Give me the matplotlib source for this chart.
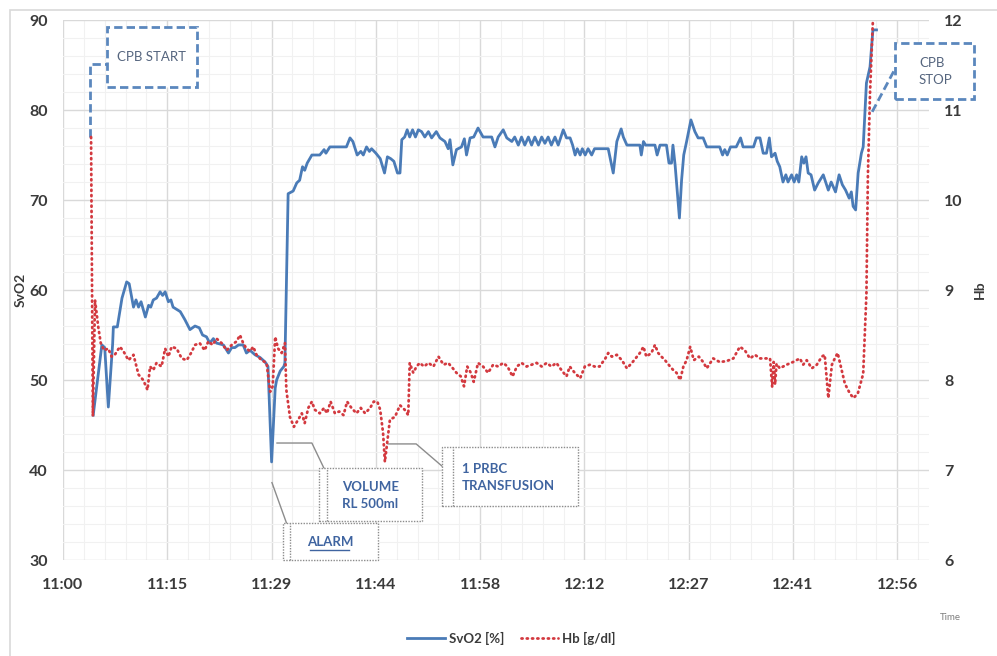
import matplotlib
matplotlib.use("Agg")
import matplotlib.pyplot as plt
from matplotlib.patches import Rectangle
from matplotlib.ticker import AutoMinorLocator, FixedLocator
import numpy as np

plt.rcParams['font.family'] = ['Lato', 'DejaVu Sans']

# time axis: minutes after 11:00, one tick every 14.5 min
tick_pos = np.arange(9) * 14.5
tick_labels = ['11:00', '11:15', '11:29', '11:44', '11:58', '12:12', '12:27', '12:41', '12:56']

# SvO2 [%] readings
svo2_t = [4.2, 5.4, 5.8, 6.3, 6.9, 7.0, 7.55, 8.2, 8.85, 9.2, 9.8, 10.15, 10.5, 10.85, 11.45,
          11.9, 12.2, 12.55, 13.0, 13.5, 13.85, 14.2, 14.65, 15.0, 15.3, 16.3, 16.95, 17.65,
          18.35, 18.95, 19.4, 19.95, 20.4, 20.9, 21.35, 22.3, 23.0, 23.45, 23.9, 24.4, 25.05,
          25.5, 26.0, 26.7, 27.4, 28.1, 28.5, 29.0, 29.5, 29.7, 30.2, 30.7, 30.85, 31.3, 32.0,
          32.5, 32.9, 33.3, 33.6, 33.95, 34.6, 35.7, 36.3, 36.55, 37.1, 39.4, 39.9, 40.3, 40.9,
          41.4, 41.75, 42.2, 42.6, 42.9, 43.5, 44.1, 44.7, 45.1, 45.55, 46.0, 46.5, 46.85, 47.1,
          47.5, 47.85, 48.2, 48.6, 49.0, 49.4, 49.85, 50.3, 50.8, 51.25, 51.9, 52.4, 53.1, 53.55,
          53.8, 54.2, 54.7, 55.4, 55.8, 56.1, 56.6, 57.1, 57.7, 58.4, 59.6, 60.05, 60.5, 61.2,
          61.7, 62.4, 62.8, 63.3, 63.75, 64.2, 64.7, 65.15, 65.6, 66.1, 66.55, 67.0, 67.45, 67.9,
          68.4, 68.85, 69.55, 70.0, 70.5, 70.85, 71.2, 71.5, 71.9, 72.2, 72.6, 73.0, 73.5, 73.9,
          75.8, 76.5, 77.0, 77.6, 77.9, 78.4, 80.2, 80.4, 80.7, 81.0, 82.3, 82.6, 83.0, 83.9,
          84.25, 84.6, 84.8, 85.1, 85.7, 86.0, 86.3, 86.7, 87.3, 87.85, 88.3, 89.0, 89.5, 91.3,
          91.7, 92.0, 92.35, 92.8, 93.6, 94.2, 94.55, 96.0, 96.4, 96.9, 97.35, 97.8, 98.2, 98.5,
          99.0, 99.3, 99.65, 100.1, 100.5, 100.8, 101.3, 101.65, 102.0, 102.3, 102.7, 103.0,
          103.3, 103.6, 104.0, 104.5, 105.0, 105.7, 106.4, 106.8, 107.4, 107.9, 108.35, 108.8,
          109.3, 109.6, 109.85, 110.2, 110.55, 111.0, 111.25, 111.7, 112.2, 112.6, 113.1]
svo2 = [46.1, 53.9, 53.6, 47.0, 54.0, 55.9, 55.9, 59.1, 60.9, 60.7, 58.1, 58.9, 58.1, 58.7, 57.0,
        58.3, 58.1, 58.9, 59.1, 59.8, 59.4, 59.8, 58.7, 58.9, 58.1, 57.6, 56.7, 55.6,
        56.0, 55.8, 55.0, 54.8, 54.1, 54.6, 54.1, 53.9, 53.0, 53.6, 53.6, 53.9, 53.9,
        53.0, 53.3, 52.8, 52.5, 52.0, 51.5, 40.9, 49.1, 50.0, 51.0, 51.5, 51.9, 70.7, 71.0,
        71.9, 72.2, 73.7, 73.3, 74.1, 75.0, 75.0, 75.6, 75.2, 75.9, 75.9, 76.9, 76.5, 75.0,
        75.4, 75.0, 75.9, 75.4, 75.7, 75.2, 74.6, 73.0, 74.8, 74.6, 74.3, 73.0, 73.0, 76.7,
        77.0, 77.8, 77.0, 77.8, 77.0, 77.8, 77.6, 77.0, 77.6, 76.9, 77.6, 76.9, 76.5, 75.7,
        76.7, 73.9, 75.6, 75.9, 76.8, 75.0, 76.9, 77.0, 78.0, 77.0, 77.0, 75.9, 77.0, 77.8,
        76.9, 76.5, 77.0, 76.1, 77.0, 76.1, 77.0, 76.1, 77.0, 76.1, 77.0, 76.3, 77.0, 76.1,
        77.0, 76.1, 77.8, 76.9, 76.9, 76.1, 75.0, 75.7, 75.0, 75.7, 75.0, 75.7, 75.0, 75.7,
        75.7, 73.0, 76.5, 77.9, 77.0, 76.1, 76.1, 75.0, 76.5, 76.1, 76.1, 75.0, 76.1, 76.1,
        74.1, 74.1, 76.1, 73.9, 68.0, 72.2, 75.0, 76.5, 78.9, 77.6, 76.9, 76.9, 75.9, 75.9,
        75.0, 75.6, 75.0, 75.9, 75.9, 76.9, 75.9, 75.9, 76.9, 76.9, 75.2, 75.2, 76.9, 74.8,
        75.2, 74.3, 73.7, 72.0, 72.8, 72.0, 72.8, 72.0, 72.8, 72.0, 74.8, 74.1,
        74.8, 73.0, 72.8, 71.1, 71.9, 72.8, 71.1, 72.0, 70.9, 72.8, 71.7, 71.1,
        70.2, 70.9, 69.3, 68.9, 73.0, 75.2, 75.9, 83.0, 84.8, 88.9, 88.9]

# Hb [g/dl] readings
hb_t = [3.9, 4.15, 4.45, 4.9, 5.25, 5.7, 6.3, 6.75, 7.2, 7.9, 8.4, 9.1, 9.8, 10.5, 11.15, 11.75,
        12.1, 12.55, 13.0, 13.7, 14.2, 14.65, 15.1, 15.8, 16.5, 17.2, 17.8, 18.35, 19.0, 19.7,
        20.2, 20.8, 21.35, 22.05, 22.75, 23.45, 24.15, 24.6, 25.05, 25.5, 26.0, 26.45, 26.9,
        27.6, 28.3, 28.8, 29.15, 29.5, 29.9, 30.4, 30.85, 31.05, 31.55, 32.1, 32.7, 33.2, 33.6,
        34.1, 34.6, 35.0, 35.7, 36.3, 36.7, 37.2, 37.8, 38.4, 39.0, 39.5, 40.1, 40.8, 41.4,
        42.0, 42.7, 43.2, 43.7, 44.1, 44.5, 44.75, 45.45, 46.15, 46.85, 47.5, 48.0, 48.2, 48.7,
        49.15, 49.6, 50.2, 50.8, 51.5, 52.2, 52.9, 53.55, 54.2, 54.7, 55.3, 55.75, 56.2, 56.7,
        57.1, 57.7, 58.4, 59.1, 59.8, 60.5, 61.2, 61.8, 62.5, 63.1, 63.75, 64.45, 65.15, 65.85,
        66.55, 67.25, 67.9, 68.6, 69.3, 70.0, 70.45, 71.15, 71.9, 72.55, 73.25, 73.9, 74.6,
        75.4, 75.8, 76.3, 77.0, 77.7, 78.4, 79.1, 79.8, 80.2, 80.7, 81.1, 81.8, 82.3, 82.75,
        83.2, 83.7, 84.4, 84.85, 85.3, 85.8, 86.25, 86.7, 87.2, 87.7, 88.4, 89.0, 89.5, 90.4,
        91.3, 92.25, 93.2, 94.1, 94.8, 95.5, 96.2, 96.9, 97.6, 98.3, 98.6, 98.8, 99.0, 99.2,
        99.65, 100.6, 101.5, 102.45, 102.9, 103.4, 104.1, 104.8, 105.5, 105.9, 106.4, 106.9,
        107.3, 107.7, 108.2, 108.7, 109.4, 109.9, 110.5, 111.25, 111.7, 111.9, 112.2, 112.6]
hb = [10.7, 7.6, 8.89, 8.59, 8.41, 8.33, 8.35, 8.26, 8.28, 8.37, 8.32, 8.22, 8.28, 8.06, 8.0, 7.89,
      8.15, 8.11, 8.19, 8.15, 8.35, 8.26, 8.37, 8.35, 8.24, 8.22, 8.30, 8.39, 8.41, 8.33,
      8.43, 8.39, 8.46, 8.41, 8.33, 8.39, 8.43, 8.50, 8.41, 8.35, 8.32, 8.37, 8.28,
      8.22, 8.19, 7.87, 7.93, 8.48, 8.35, 8.30, 8.41, 7.89, 7.59, 7.48, 7.56, 7.63, 7.52,
      7.69, 7.76, 7.67, 7.63, 7.69, 7.63, 7.76, 7.63, 7.65, 7.61, 7.76, 7.69, 7.63, 7.69,
      7.63, 7.69, 7.76, 7.76, 7.67, 7.41, 7.09, 7.56, 7.59, 7.72, 7.67, 7.61, 8.19, 8.08,
      8.15, 8.19, 8.15, 8.19, 8.15, 8.26, 8.17, 8.19, 8.13, 8.08, 8.04, 7.93, 8.15, 8.08,
      7.98, 8.19, 8.15, 8.08, 8.17, 8.15, 8.19, 8.15, 8.04, 8.15, 8.19, 8.15, 8.17, 8.19,
      8.15, 8.19, 8.15, 8.19, 8.11, 8.04, 8.15, 8.08, 8.02, 8.15, 8.17, 8.15, 8.15,
      8.24, 8.30, 8.26, 8.28, 8.22, 8.13, 8.19, 8.26, 8.30, 8.37, 8.26, 8.30, 8.39, 8.30,
      8.26, 8.22, 8.15, 8.11, 8.08, 8.00, 8.15, 8.22, 8.37, 8.22, 8.26, 8.20, 8.13, 8.24,
      8.20, 8.21, 8.24, 8.37, 8.33, 8.24, 8.28, 8.24, 8.24, 8.24, 7.92, 8.20, 7.95, 8.18,
      8.13, 8.17, 8.20, 8.24, 8.17, 8.22, 8.13, 8.17, 8.26, 8.28, 7.80, 8.17,
      8.24, 8.30, 8.13, 7.96, 7.85, 7.80, 7.85, 8.07, 8.96, 10.26, 11.19, 12.0]

blue = '#4a7bb7'
red = '#d3393f'
note_blue = '#3f64a0'
tick_col = '#3a3a3a'

fig = plt.figure(figsize=(9.97, 6.56), dpi=100)
ax = fig.add_axes([0.0632, 0.1463, 0.8686, 0.8232])
ax2 = ax.twinx()

# light frame around the whole chart
fig.add_artist(Rectangle((0.01, -0.1), 1.1, 1.0848, transform=fig.transFigure,
                         fill=False, edgecolor='#d9d9d9', linewidth=1.2))

ln1, = ax.plot(svo2_t, svo2, color=blue, linewidth=2.0, solid_joinstyle='round', zorder=3,
               label='SvO2 [%]')
ln2, = ax2.plot(hb_t, hb, color=red, linewidth=2.0, linestyle=(0, (0.4, 1.5)),
                dash_capstyle='round', zorder=3, label='Hb [g/dl]')

ax.set_xlim(0, 120.4)
ax.set_ylim(30, 90)
ax2.set_ylim(6, 12)
ax.xaxis.set_major_locator(FixedLocator(tick_pos))
ax.set_xticklabels(tick_labels)
ax.set_yticks(np.arange(30, 91, 10))
ax2.set_yticks(np.arange(6, 13, 1))
ax.xaxis.set_minor_locator(AutoMinorLocator(5))
ax.yaxis.set_minor_locator(AutoMinorLocator(5))

ax.grid(which='major', color='#d9d9d9', linewidth=1.0)
ax.grid(which='minor', color='#f1f1f1', linewidth=0.8)
ax.set_axisbelow(True)
for a in (ax, ax2):
    for s in a.spines.values():
        s.set_visible(False)
ax.tick_params(axis='both', which='both', length=0)
ax2.tick_params(axis='both', which='both', length=0)
ax.tick_params(axis='x', pad=13)
ax.tick_params(axis='y', pad=11)
ax2.tick_params(axis='y', pad=11)
for lbl in ax.get_xticklabels() + ax.get_yticklabels() + ax2.get_yticklabels():
    lbl.set_fontsize(11.5)
    lbl.set_fontweight('bold')
    lbl.set_color(tick_col)

ax.set_ylabel('SvO2', fontsize=10, fontweight='bold', color=tick_col, labelpad=2)
ax2.set_ylabel('Hb', fontsize=10, fontweight='bold', color=tick_col, labelpad=8, rotation=90)
fig.text(0.953, 0.058, 'Time', fontsize=7, color='#7f7f7f', ha='center', va='center')

# ---- annotations (drawn in SvO2 data coordinates) ----
def box(x0, x1, y0, y1, **kw):
    rect = Rectangle((x0, y0), x1 - x0, y1 - y0, clip_on=False, zorder=6, **kw)
    ax.add_patch(rect)

def link(xs, ys, **kw):
    ax.plot(xs, ys, clip_on=False, zorder=6, **kw)

dash_kw = dict(facecolor='white', edgecolor='#5b87bd', linewidth=2, linestyle=(0, (3, 1.5)))
# CPB START
link([3.75, 3.75, 6.07], [77.0, 85.1, 85.1], color='#5b87bd', linewidth=2,
     linestyle=(0, (3, 1.5)))
box(6.07, 18.66, 82.52, 89.19, **dash_kw)
ax.text(12.36, 85.85, 'CPB START', fontsize=9.5, color='#55657e', ha='center', va='center',
        zorder=7)
# CPB STOP
link([112.5, 115.5, 115.7], [79.8, 84.3, 84.3], color='#5b87bd', linewidth=2,
     linestyle=(0, (3, 1.5)))
box(115.7, 126.6, 81.2, 87.4, **dash_kw)
ax.text(119.0, 84.3, 'CPB\nSTOP', fontsize=9.5, color='#55657e', ha='left', va='center',
        linespacing=1.5, zorder=7, clip_on=False)

gray_kw = dict(facecolor='white', edgecolor='#8c8c8c', linewidth=1.0, linestyle=(0, (1, 1)))
# VOLUME RL 500ml
link([29.75, 34.6, 36.4], [43.0, 43.0, 40.0], color='#8c8c8c', linewidth=1.0)
box(35.6, 49.9, 34.3, 40.2, **gray_kw)
link([36.7, 36.7], [34.3, 40.2], color='#8c8c8c', linewidth=1.0, linestyle=(0, (1, 1)))
ax.text(38.8, 37.2, 'VOLUME\nRL 500ml', fontsize=9.5, fontweight='bold', color=note_blue,
        ha='left', va='center', linespacing=1.5, zorder=7)
# ALARM
link([29.05, 31.3], [38.6, 33.6], color='#8c8c8c', linewidth=1.0)
box(30.6, 43.8, 30.0, 34.1, **gray_kw)
link([31.6, 31.6], [30.0, 34.1], color='#8c8c8c', linewidth=1.0, linestyle=(0, (1, 1)))
ax.text(37.1, 32.0, 'ALARM', fontsize=9.5, fontweight='bold', color=note_blue,
        ha='center', va='center', zorder=7)
link([34.4, 39.8], [31.1, 31.1], color=note_blue, linewidth=1.0)
# 1 PRBC TRANSFUSION
link([45.2, 49.1, 54.2], [42.9, 42.9, 39.4], color='#8c8c8c', linewidth=1.0)
box(52.7, 71.6, 36.0, 42.6, **gray_kw)
link([54.2, 54.2], [36.0, 42.6], color='#8c8c8c', linewidth=1.0, linestyle=(0, (1, 1)))
ax.text(55.5, 39.2, '1 PRBC\nTRANSFUSION', fontsize=9.5, fontweight='bold', color=note_blue,
        ha='left', va='center', linespacing=1.5, zorder=7)

leg = fig.legend([ln1, ln2], ['SvO2 [%]', 'Hb [g/dl]'], loc='center', ncol=2,
                 bbox_to_anchor=(0.513, 0.0274), frameon=False, handlelength=2.7,
                 columnspacing=1.2, handletextpad=0.3)
for t in leg.get_texts():
    t.set_fontsize(9.5)
    t.set_fontweight('bold')
    t.set_color(tick_col)

fig.savefig('out.png', dpi=100)
